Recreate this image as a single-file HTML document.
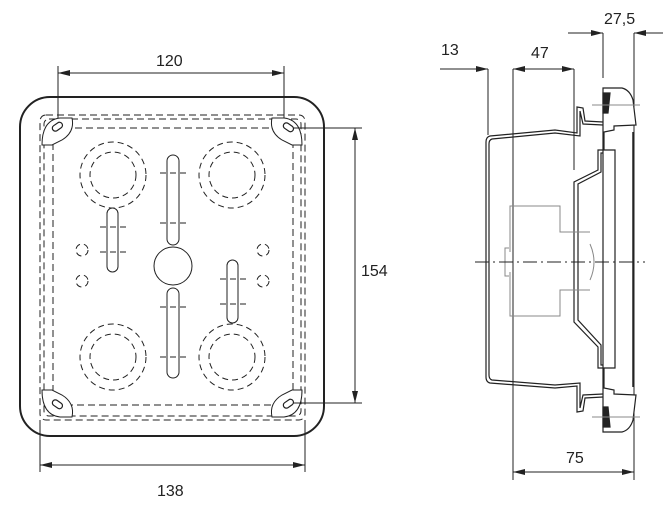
<!DOCTYPE html>
<html><head><meta charset="utf-8"><style>
html,body{margin:0;padding:0;background:#fff;}
svg{display:block;}
text{font-family:"Liberation Sans",sans-serif;font-size:16px;fill:#222;}
</style></head><body>
<svg width="665" height="509" viewBox="0 0 665 509" xmlns="http://www.w3.org/2000/svg">
<defs>
<marker id="a" markerWidth="12" markerHeight="6" refX="12" refY="3" orient="auto" markerUnits="userSpaceOnUse"><path d="M0,0 L12,3 L0,6 Z" fill="#222"/></marker>
<marker id="b" markerWidth="12" markerHeight="6" refX="0" refY="3" orient="auto" markerUnits="userSpaceOnUse"><path d="M12,0 L0,3 L12,6 Z" fill="#222"/></marker>
</defs>
<g stroke="#222" fill="none" stroke-width="1">
<!-- LEFT VIEW -->
<line x1="58" y1="66" x2="58" y2="132"/><line x1="284" y1="66" x2="284" y2="132"/>
<line x1="58" y1="73" x2="284" y2="73" marker-start="url(#b)" marker-end="url(#a)"/>
<rect x="20" y="97" width="304" height="339" rx="30" stroke-width="2"/>
<g stroke-dasharray="7,4">
<rect x="40" y="115" width="265" height="305" rx="6"/>
<rect x="44" y="119" width="257" height="297" rx="5"/>
<rect x="53" y="128" width="240" height="277"/>
</g>
<g fill="#fff">
<path d="M42,145 Q42,120 60,118 L72,118 Q75,132 62,140 L52,145 Z"/>
<path d="M302,145 Q302,120 284,118 L272,118 Q269,132 282,140 L292,145 Z"/>
<path d="M42,390 Q42,415 60,417 L72,417 Q75,403 62,395 L52,390 Z"/>
<path d="M302,390 Q302,415 284,417 L272,417 Q269,403 282,395 L292,390 Z"/>
</g>
<g stroke-width="1.2">
<rect x="52" y="124" width="11" height="6" rx="3" transform="rotate(-35 57 127)"/>
<rect x="283" y="124" width="11" height="6" rx="3" transform="rotate(35 288 127)"/>
<rect x="52" y="401" width="11" height="6" rx="3" transform="rotate(35 57 404)"/>
<rect x="283" y="401" width="11" height="6" rx="3" transform="rotate(-35 288 404)"/>
</g>
<g stroke-dasharray="6,4">
<circle cx="113" cy="175" r="33"/><circle cx="113" cy="175" r="23"/>
<circle cx="232" cy="175" r="33"/><circle cx="232" cy="175" r="23"/>
<circle cx="113" cy="357" r="33"/><circle cx="113" cy="357" r="23"/>
<circle cx="232" cy="357" r="33"/><circle cx="232" cy="357" r="23"/>
<circle cx="82" cy="250" r="6"/><circle cx="82" cy="281" r="6"/>
<circle cx="263" cy="250" r="6"/><circle cx="263" cy="281" r="6"/>
</g>
<circle cx="173" cy="266" r="19"/>
<rect x="167" y="155" width="12" height="90" rx="6"/>
<rect x="167" y="288" width="12" height="90" rx="6"/>
<rect x="107" y="208" width="11" height="64" rx="5.5"/>
<rect x="227" y="260" width="11" height="63" rx="5.5"/>
<g stroke-dasharray="6,4" fill="#fff">
<path d="M160,173 H186 M160,223 H186 M160,307 H186 M160,357 H186 M100,227 H126 M100,252 H126 M220,279 H246 M220,304 H246"/>
</g>
<line x1="293" y1="128" x2="362" y2="128"/><line x1="293" y1="403" x2="362" y2="403"/>
<line x1="355" y1="128" x2="355" y2="403" marker-start="url(#b)" marker-end="url(#a)"/>
<line x1="40" y1="420" x2="40" y2="472"/><line x1="305" y1="420" x2="305" y2="472"/>
<line x1="40" y1="465" x2="305" y2="465" marker-start="url(#b)" marker-end="url(#a)"/>

<!-- RIGHT VIEW -->
<line x1="603" y1="33" x2="603" y2="78"/><line x1="634" y1="33" x2="634" y2="480"/>
<line x1="568" y1="33" x2="603" y2="33" marker-end="url(#a)"/>
<line x1="663" y1="33" x2="634" y2="33" marker-end="url(#a)"/>
<line x1="488" y1="69" x2="488" y2="135"/><line x1="513" y1="69" x2="513" y2="480"/><line x1="574" y1="69" x2="574" y2="170"/>
<line x1="440" y1="69" x2="488" y2="69" marker-end="url(#a)"/>
<line x1="513" y1="69" x2="574" y2="69" marker-start="url(#b)" marker-end="url(#a)"/>
<line x1="513" y1="472" x2="634" y2="472" marker-start="url(#b)" marker-end="url(#a)"/>
<g stroke-width="1.2">
<path d="M603,122 L585,121 L583,108 L577,107 L577,133 L555,130 L490,136 Q486,137 486,142 L486,377 Q486,382 490,383 L555,388 L577,386 L577,412 L583,411 L585,398 L603,397"/>
<path d="M603,125 L583,124 L580,111 L580,136 L555,133 L492,139 Q489,140 489,144 L489,375 Q489,379 492,380 L555,385 L580,383 L580,408 L583,395 L603,394"/>
<path d="M603,150 L598,150 L598,170 L574,182 L574,322 L598,347 L598,368 L603,368"/>
<path d="M605,153 L601,153 L601,172 L578,184 L578,320 L601,345 L601,365 L605,365"/>
<path d="M603,88 L622,88 Q630,90 633,100 L636,125 L614,126 L614,130 L604,132 L604,150 L615,150 L615,368 L604,368 L604,388 L614,390 L614,394 L636,395 L633,420 Q630,430 622,432 L603,432 Z" fill="#fff"/>
<line x1="633" y1="132" x2="633" y2="387" stroke-width="1.5"/>
<path d="M603,93 L610,93 L608,113 L603,113 Z M603,407 L608,407 L610,427 L603,427 Z" fill="#222"/>
</g>
<line x1="592" y1="105" x2="640" y2="105" stroke="#888"/><line x1="592" y1="417" x2="640" y2="417" stroke="#888"/>
<g stroke="#888">
<path d="M510,252 V206 H560 V232 H590 M510,272 V316 H560 V290 H590 M509,248 H505 V276 H509"/>
<path d="M590,244 Q598,262 590,280"/>
</g>
<line x1="475" y1="262" x2="645" y2="262" stroke-dasharray="14,4,2,4"/>
</g>
<g>
<text x="156" y="66">120</text>
<text x="361" y="276">154</text>
<text x="157" y="496">138</text>
<text x="441" y="55">13</text>
<text x="531" y="58">47</text>
<text x="604" y="24">27,5</text>
<text x="566" y="463">75</text>
</g>
</svg>
</body></html>
